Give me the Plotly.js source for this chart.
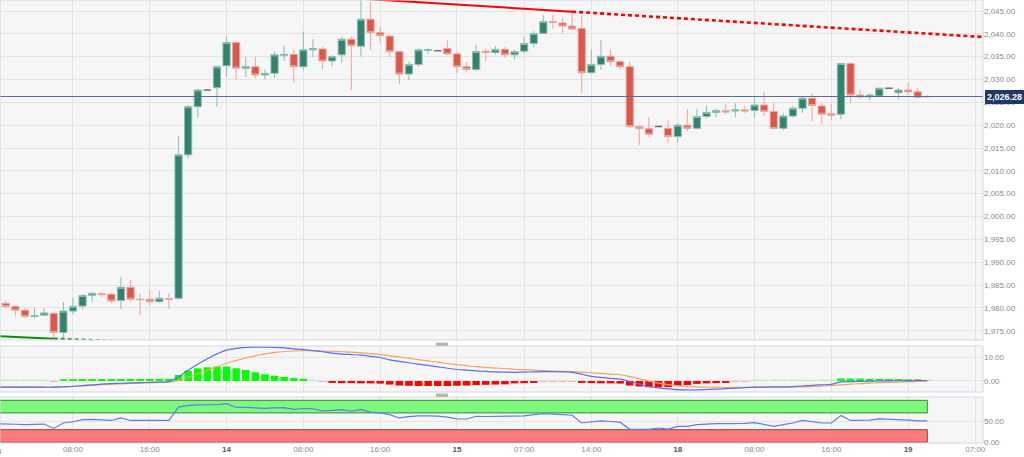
<!DOCTYPE html>
<html><head><meta charset="utf-8">
<script src="https://cdn.plot.ly/plotly-3.0.1.min.js"></script>
<style>html,body{margin:0;padding:0;background:#fff;}#chart{width:1024px;height:457px;}</style>
</head><body><div id="chart"></div>
<script>
// Trading sessions (hourly candles; weekend gap removed)
const sessions = [['2023-12-13',0,23],['2023-12-14',0,23],['2023-12-15',0,21],['2023-12-17',23,23],['2023-12-18',0,23],['2023-12-19',0,8]];
const slots = [];
sessions.forEach(([d,a,b]) => { for (let h=a; h<=b; h++) slots.push(d+' '+String(h).padStart(2,'0')+':00'); });

const open = [1982.6,1981.0,1980.3,1979.5,1978.1,1978.4,1978.8,1974.6,1979.3,1980.4,
1982.7,1983.1,1983.0,1981.6,1984.5,1981.9,1981.9,1981.35,1982.0,1982.1,
2013.5,2024.05,2027.7,2028.2,2033.0,2038.1,2032.45,2032.8,2031.0,2031.35,
2035.3,2035.5,2032.8,2036.5,2036.7,2034.05,2035.4,2038.8,2037.3,2043.2,
2040.3,2039.5,2036.1,2031.2,2033.3,2036.4,2036.3,2036.8,2035.6,2032.8,
2032.2,2036.2,2035.9,2036.6,2035.4,2036.2,2037.9,2040.1,2042.7,2042.4,
2041.7,2041.2,2031.5,2033.3,2035.1,2033.9,2032.8,2019.7,2019.2,2019.7,
2019.3,2017.5,2020.0,2019.3,2021.9,2022.8,2023.15,2023.1,2023.35,2023.2,
2024.4,2023.0,2019.3,2022.0,2023.7,2025.9,2024.2,2022.5,2022.4,2033.5,
2026.6,2026.2,2026.4,2028.1,2027.1,2027.7,2027.3,2026.2];
const high = [1983.0,1981.6,1980.6,1980.0,1980.0,1979.9,1979.0,1981.2,1982.2,1983.0,
1983.4,1983.5,1983.3,1986.8,1986.1,1983.0,1983.8,1983.7,1983.2,2017.5,
2024.4,2027.9,2027.8,2033.0,2039.4,2038.4,2034.9,2035.0,2032.2,2036.1,
2037.4,2036.6,2040.5,2038.8,2037.2,2035.4,2039.4,2039.4,2047.7,2047.0,
2041.6,2039.7,2036.3,2033.9,2036.8,2036.8,2036.35,2038.6,2036.1,2033.8,
2037.6,2036.8,2037.3,2037.1,2036.5,2039.2,2040.6,2044.1,2044.1,2043.4,
2045.0,2044.1,2036.5,2038.65,2036.5,2034.4,2033.9,2020.0,2021.7,2019.75,
2021.0,2020.4,2023.5,2023.5,2024.2,2023.7,2024.6,2024.8,2024.2,2026.1,
2027.3,2024.9,2022.6,2024.2,2026.1,2027.0,2024.8,2024.6,2033.6,2033.8,
2027.85,2027.0,2028.2,2028.15,2028.1,2029.3,2028.1,2026.5];
const low = [1981.4,1979.7,1978.1,1977.8,1977.7,1978.3,1973.3,1973.4,1978.6,1979.7,
1981.2,1982.3,1981.0,1979.7,1981.3,1978.4,1980.5,1981.1,1979.7,1981.8,
2012.8,2021.7,2027.6,2024.05,2030.6,2030.0,2030.6,2030.3,2030.0,2030.3,
2034.05,2029.3,2032.1,2034.9,2032.3,2033.0,2033.7,2027.7,2035.0,2036.5,
2037.9,2034.9,2029.0,2029.9,2032.8,2035.6,2036.25,2035.4,2031.4,2031.7,
2031.9,2034.05,2035.4,2034.7,2034.4,2035.7,2037.05,2040.0,2041.2,2040.1,
2040.8,2027.0,2031.3,2032.1,2033.0,2032.1,2019.5,2015.7,2017.35,2019.65,
2016.0,2016.2,2018.7,2019.1,2021.5,2021.7,2022.4,2021.7,2022.7,2021.7,
2022.0,2019.3,2018.8,2021.7,2022.7,2020.9,2020.25,2021.1,2021.3,2024.9,
2025.7,2025.5,2026.3,2028.05,2025.7,2026.6,2025.9,2026.1];
const close = [1981.7,1980.3,1979.5,1978.1,1978.3,1978.9,1974.6,1979.3,1980.3,1982.7,
1983.2,1982.9,1981.5,1984.5,1981.9,1981.8,1981.35,1982.1,1981.9,2013.5,
2024.05,2027.7,2027.7,2032.8,2038.1,2032.5,2032.8,2031.0,2031.35,2035.4,
2035.5,2032.8,2036.5,2036.8,2034.05,2035.0,2038.8,2037.4,2043.2,2040.3,
2039.6,2036.1,2031.2,2033.3,2036.5,2036.5,2036.3,2035.6,2032.8,2032.2,
2036.1,2035.9,2036.6,2035.4,2036.1,2037.9,2040.1,2042.7,2042.5,2041.7,
2041.05,2031.5,2033.3,2035.1,2033.9,2032.8,2019.7,2019.25,2018.0,2019.7,
2017.5,2020.0,2019.3,2021.9,2022.8,2023.2,2022.9,2023.35,2023.1,2024.4,
2023.0,2019.3,2022.0,2023.7,2025.9,2024.3,2022.4,2022.2,2033.5,2026.6,
2026.2,2026.6,2028.1,2028.1,2027.7,2027.3,2026.1,2026.28];

const macdLine = [-2.6,-2.6,-2.6,-2.6,-2.6,-2.6,-2.6,-2.4,-2.2,-1.9,
-1.6,-1.3,-1.1,-0.95,-0.8,-0.7,-0.55,-0.45,-0.3,1.8,
4.5,7.0,9.3,11.3,12.9,13.6,14.0,14.1,14.1,14.0,
13.8,13.4,13.1,12.7,12.2,11.6,11.2,11.0,10.8,10.3,
9.8,8.8,8.2,7.6,7.0,6.5,5.9,5.3,4.8,4.5,
4.2,4.0,3.8,3.7,3.6,3.7,3.8,3.9,3.9,3.8,
3.6,2.8,1.9,1.5,1.1,0.8,-0.2,-1.3,-2.3,-2.9,
-3.3,-3.6,-3.75,-3.7,-3.55,-3.4,-3.2,-3.0,-2.75,-2.6,
-2.55,-2.5,-2.45,-2.35,-2.1,-1.8,-1.6,-1.4,-0.4,-0.3,
-0.2,-0.1,0.0,0.05,0.1,0.15,0.2,0.2];
const macdSignal = [-2.4,-2.45,-2.5,-2.5,-2.55,-2.6,-2.6,-2.5,-2.3,-2.1,
-1.8,-1.55,-1.35,-1.2,-1.05,-0.9,-0.75,-0.6,-0.5,0.2,
1.5,3.0,4.5,6.0,7.4,8.5,9.6,10.5,11.3,11.9,
12.3,12.5,12.6,12.6,12.5,12.4,12.2,12.0,11.7,11.4,
11.0,10.5,10.0,9.4,8.9,8.4,7.9,7.3,6.8,6.4,
6.0,5.7,5.4,5.2,4.9,4.7,4.5,4.3,4.1,4.0,
3.9,3.7,3.4,3.2,2.9,2.6,1.8,0.9,-0.1,-0.9,
-1.5,-2.0,-2.4,-2.5,-2.6,-2.6,-2.65,-2.65,-2.65,-2.6,
-2.6,-2.6,-2.55,-2.5,-2.45,-2.4,-2.2,-1.9,-1.6,-1.3,
-1.1,-0.9,-0.7,-0.55,-0.45,-0.3,-0.2,-0.1];
const macdHist = [0.45,0.45,0.45,0.45,0.45,0.45,-0.45,0.7,0.75,0.8,
0.8,0.8,0.8,0.85,0.85,0.85,0.85,0.9,0.9,2.5,
4.3,5.3,5.7,6.0,6.0,5.3,4.6,3.6,2.8,2.2,
1.7,1.2,0.9,0.45,-0.45,-0.8,-0.9,-0.9,-1.0,-1.0,
-1.1,-1.5,-1.9,-2.0,-2.1,-2.1,-2.1,-2.1,-2.0,-1.9,
-1.7,-1.6,-1.5,-1.4,-1.0,-0.9,-0.8,-0.45,-0.45,-0.45,
-0.45,-0.8,-0.9,-1.0,-1.0,-1.1,-1.9,-2.3,-2.6,-2.6,
-2.6,-2.0,-1.7,-1.2,-1.0,-0.9,-0.8,-0.45,-0.45,0.45,
0.45,0.45,0.45,0.45,0.45,0.45,0.45,0.45,1.1,1.0,
1.0,0.9,0.9,0.8,0.8,0.7,0.7,0.45];
const rsi = [44,44,43,42,43,43.5,33,46,49,54,
54.5,53,52,58,52,52,51.5,52.5,52,84,
88,89,89,89.5,92,83,83,82,81,82,
82.5,78.5,80.5,80,75,76,78,74,78.5,72,
70,66,58,61,63,63,62.5,60,56,55.5,
62,61.5,62,61,62.5,63,66,68,67,66,
64.5,46,49,51,49.5,48,31,31,31,34,
31.5,38,38,42,44,44.5,44.5,44.5,45,47,
43,38,42,46,52,49,46,46,64,52,
52,53,56,55.5,55,53,51,51];

// Trendlines
const resTimes = ['2023-12-14 14:00','2023-12-15 12:00'];
const resPrices = [2047.7, 2044.85];
const resProjTimes = ['2023-12-15 12:00','2023-12-19 08:00'];
const resProjPrices = [2044.85, 2039.28];
const supTimes = ['2023-12-13 00:00','2023-12-13 06:00'];
const supPrices = [1973.8, 1973.25];
const supProjTimes = ['2023-12-13 06:00','2023-12-13 20:00'];
const supProjPrices = [1973.25, 1972.0];
const lastPrice = 2026.28;

const priceTicks = [1975,1980,1985,1990,1995,2000,2005,2010,2015,2020,2025,2030,2035,2040,2045];
const tickTimes = ['2023-12-13 08:00','2023-12-13 16:00','2023-12-14 00:00','2023-12-14 08:00','2023-12-14 16:00','2023-12-15 00:00','2023-12-15 07:00','2023-12-15 14:00','2023-12-18 00:00','2023-12-18 08:00','2023-12-18 16:00','2023-12-19 00:00','2023-12-19 07:00'];
const tickText = ['08:00','16:00','14','08:00','16:00','15','07:00','14:00','18','08:00','16:00','19','07:00'];
const dayLabels = ['14','15','18','19'];

const times = slots.slice(0, open.length);
const idx = [...Array(open.length).keys()];
const reg = idx.filter(i => open[i] !== close[i]);
const doj = idx.filter(i => open[i] === close[i]);
const pick = (a, ids) => ids.map(i => a[i]);

const traces = [
 {type:'candlestick', x:pick(times,reg), open:pick(open,reg), high:pick(high,reg), low:pick(low,reg), close:pick(close,reg),
  increasing:{line:{color:'#8dbdb1',width:1}, fillcolor:'#32826f'},
  decreasing:{line:{color:'#eba69c',width:1}, fillcolor:'#d9584a'},
  whiskerwidth:0, xaxis:'x', yaxis:'y', hoverinfo:'skip'},
 {type:'candlestick', x:pick(times,doj), open:pick(open,doj), high:pick(high,doj), low:pick(low,doj), close:pick(close,doj),
  increasing:{line:{color:'#707070',width:1.5}, fillcolor:'#707070'},
  decreasing:{line:{color:'#707070',width:1.5}, fillcolor:'#707070'},
  whiskerwidth:0, xaxis:'x', yaxis:'y', hoverinfo:'skip'},
 {type:'scatter', mode:'lines', x:resTimes, y:resPrices, line:{color:'#ff0000',width:2}, xaxis:'x', yaxis:'y', hoverinfo:'skip'},
 {type:'scatter', mode:'lines', x:resProjTimes, y:resProjPrices, line:{color:'#ff0000',width:2.6,dash:'4px,3px'}, xaxis:'x', yaxis:'y', hoverinfo:'skip'},
 {type:'scatter', mode:'lines', x:supTimes, y:supPrices, line:{color:'#118a11',width:2}, xaxis:'x', yaxis:'y', hoverinfo:'skip'},
 {type:'scatter', mode:'lines', x:supProjTimes, y:supProjPrices, line:{color:'#2a9a2a',width:2.6,dash:'4px,3px'}, xaxis:'x', yaxis:'y', hoverinfo:'skip'},
 {type:'bar', x:times, y:macdHist, marker:{color:macdHist.map(v => v >= 0 ? (v < 0.5 ? '#a8f5a8' : '#00ff00') : (v > -0.5 ? '#ffb0b0' : '#ff0000')), line:{width:0}}, xaxis:'x', yaxis:'y2', hoverinfo:'skip'},
 {type:'scatter', mode:'lines', x:times, y:macdSignal, line:{color:'#f5a25e',width:1.2,shape:'spline'}, xaxis:'x', yaxis:'y2', hoverinfo:'skip'},
 {type:'scatter', mode:'lines', x:times, y:macdLine, line:{color:'#5a6ef2',width:1.2,shape:'spline'}, xaxis:'x', yaxis:'y2', hoverinfo:'skip'},
 {type:'scatter', mode:'lines', x:times, y:rsi, line:{color:'#6478f0',width:1.2}, xaxis:'x', yaxis:'y3', hoverinfo:'skip'}
];

const dMain = [0.2325, 1], dMacd = [0.1151, 0.2190], dRsi = [0, 0.1038];
const grid = '#e4e4e4';
const yCommon = {side:'right', anchor:'x', tickmode:'array', showgrid:true, gridcolor:grid, zeroline:false, showline:false, ticks:'', tickfont:{size:8,color:'#8a8a8a'}, fixedrange:true, autorange:false};
const border = d => ({type:'rect', xref:'paper', yref:'paper', x0:0, x1:1, y0:d[0], y1:d[1], line:{color:'#d6d6e4',width:1}, fillcolor:'rgba(0,0,0,0)', layer:'above'});

const layout = {
 width:1024, height:457,
 margin:{l:0, r:41, t:0, b:14, pad:0},
 paper_bgcolor:'#ffffff', plot_bgcolor:'#f6f6f6',
 showlegend:false, hovermode:false, dragmode:false,
 font:{family:'Liberation Sans, Arial, sans-serif', size:8, color:'#8a8a8a'},
 boxgap:0.25, boxgroupgap:0, bargap:0.22,
 xaxis:{type:'category', categoryorder:'array', categoryarray:slots, range:[0.4,102.8], anchor:'y3',
   tickmode:'array', tickvals:tickTimes,
   ticktext:tickText.map(t => dayLabels.includes(t) ? '<b><span style="color:#555">'+t+'</span></b>' : t),
   showgrid:true, gridcolor:grid, zeroline:false, showline:false, ticks:'', tickfont:{size:8,color:'#8a8a8a'},
   rangeslider:{visible:false}, fixedrange:true, autorange:false},
 yaxis:Object.assign({}, yCommon, {domain:dMain, range:[1972.96,2047.41], tickvals:priceTicks, tickformat:',.2f'}),
 yaxis2:Object.assign({}, yCommon, {domain:dMacd, range:[-4.6,14.6], tickvals:[0,10], tickformat:'.2f'}),
 yaxis3:Object.assign({}, yCommon, {domain:dRsi, range:[-1.7,107.9], tickvals:[0,50], tickformat:'.2f'}),
 shapes:[
  {type:'rect', xref:'x', yref:'y3', x0:times[0], x1:times[times.length-1], y0:70, y1:100, fillcolor:'#7dfa7d', line:{color:'#3d8a3d',width:1}, layer:'between'},
  {type:'rect', xref:'x', yref:'y3', x0:times[0], x1:times[times.length-1], y0:0, y1:30, fillcolor:'#ff7b7b', line:{color:'#8a4444',width:1}, layer:'between'},
  {type:'line', xref:'paper', yref:'y', x0:0, x1:1, y0:lastPrice, y1:lastPrice, line:{color:'#5a6d99',width:1}, layer:'above'},
  border(dMain), border(dMacd), border(dRsi),
  {type:'rect', xref:'paper', yref:'paper', x0:0.4435, x1:0.4557, y0:0.2191, y1:0.2268, fillcolor:'#b8b8b8', line:{width:0}},
  {type:'rect', xref:'paper', yref:'paper', x0:0.4435, x1:0.4557, y0:0.1038, y1:0.1117, fillcolor:'#b8b8b8', line:{width:0}}
 ],
 annotations:[
  {xref:'paper', yref:'y', x:1, y:lastPrice, xanchor:'left', yanchor:'middle', xshift:2, showarrow:false,
   text:'<b>'+lastPrice.toLocaleString('en-US',{minimumFractionDigits:2})+'</b>', font:{color:'#ffffff', size:9},
   bgcolor:'#1f3966', bordercolor:'#1f3966', borderpad:1},
  {xref:'paper', yref:'paper', x:0, y:0, xanchor:'center', yanchor:'top', xshift:-4, yshift:-2, showarrow:false,
   text:'<b>13</b>', font:{color:'#555', size:8}}
 ]
};

Plotly.newPlot('chart', traces, layout, {staticPlot:true, displayModeBar:false});
</script>
</body></html>
